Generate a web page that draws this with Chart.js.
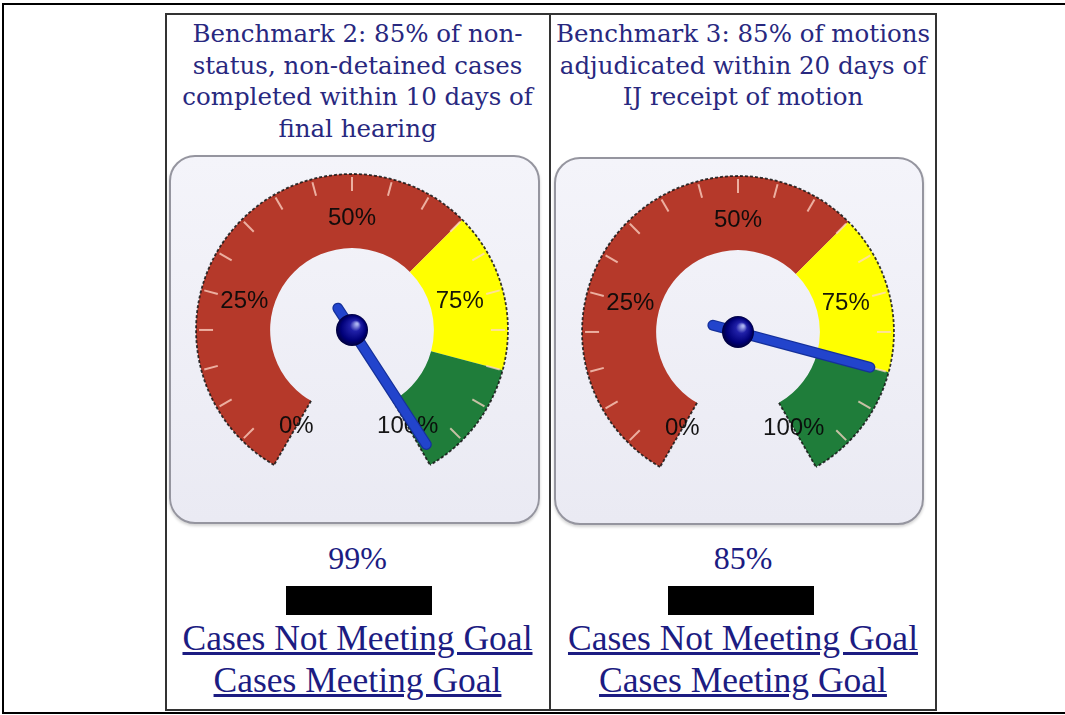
<!DOCTYPE html>
<html><head><meta charset="utf-8">
<script src="https://cdn.jsdelivr.net/npm/chart.js@4/dist/chart.umd.min.js"></script>
<style>
html,body{margin:0;padding:0;background:#fff;width:1065px;height:715px;overflow:hidden;position:relative;}
#frame{position:absolute;left:2px;top:3px;width:1080px;height:707px;border-top:2px solid #000;border-left:2px solid #000;border-bottom:2px solid #000;}
#table{position:absolute;left:165px;top:13px;width:768px;height:694px;border:2px solid #333;}
#divider{position:absolute;left:549px;top:13px;width:2px;height:697px;background:#333;}
.title{position:absolute;text-align:center;font-family:"DejaVu Serif";font-size:24.5px;line-height:31.5px;color:#28287f;white-space:nowrap;}
.box{position:absolute;box-sizing:border-box;border:2px solid #95959f;border-radius:26px;background:linear-gradient(#f4f4fa,#eaeaf3);box-shadow:0 2px 3px rgba(0,0,0,0.18);}
canvas.g{position:absolute;}
.pct{position:absolute;text-align:center;font-family:"Liberation Serif";font-size:32px;line-height:36px;color:#1c1c82;}
.bar{position:absolute;background:#000;}
.link{position:absolute;text-align:center;font-family:"Liberation Serif";font-size:35.5px;line-height:42px;color:#1c1c82;white-space:nowrap;}
.link span{text-decoration:underline;}
</style>
</head>
<body>
<div id="frame"></div>
<div id="table"></div>
<div id="divider"></div>
<div id="root"></div>
<script>
// ---- data ----
const gaugeTitles = [
  ["Benchmark 2: 85% of non-", "status, non-detained cases", "completed within 10 days of", "final hearing"],
  ["Benchmark 3: 85% of motions", "adjudicated within 20 days of", "IJ receipt of motion"]
];
const gaugeValues = [99, 85];
const valueLabels = ["99%", "85%"];
const bandSizes = [65, 20, 15];            // red 0-65, yellow 65-85, green 85-100
const bandColors = ["#b5392a", "#ffff00", "#1f7d3a"];
const tickValues = [5,10,15,20,25,30,35,40,45,50,55,60,65,70,75,80,85,90,95];
const labelValues = [0, 25, 50, 75, 100];
const labelTexts = ["0%", "25%", "50%", "75%", "100%"];
const linkTexts = ["Cases Not Meeting Goal", "Cases Meeting Goal"];

// ---- layout ----
const cells = [{x:165, w:385}, {x:550, w:386}];
const boxes = [{x:169, y:155, w:371, h:369, pad:{left:27, top:19, right:32, bottom:59}},
               {x:554, y:157, w:370, h:368, pad:{left:28, top:19, right:30, bottom:58}}];

const gaugePlugin = {
  id: 'gauge',
  afterDatasetsDraw(chart, args, opts) {
    const ctx = chart.ctx;
    const meta = chart.getDatasetMeta(0);
    const first = meta.data[0], last = meta.data[meta.data.length - 1];
    const cx = first.x, cy = first.y, R = first.outerRadius, r = first.innerRadius;
    const a0 = first.startAngle, a1 = last.endAngle;
    const ang = v => a0 + (v / 100) * (a1 - a0);
    ctx.save();
    // dotted outer outline
    ctx.setLineDash([3, 2]);
    ctx.strokeStyle = 'rgba(20,20,20,0.85)';
    ctx.lineWidth = 1.8;
    ctx.beginPath();
    ctx.arc(cx, cy, R, a0, a1);
    ctx.stroke();
    [a0, a1].forEach(a => {
      ctx.beginPath();
      ctx.moveTo(cx + Math.cos(a) * r, cy + Math.sin(a) * r);
      ctx.lineTo(cx + Math.cos(a) * R, cy + Math.sin(a) * R);
      ctx.stroke();
    });
    ctx.setLineDash([]);
    // ticks
    ctx.strokeStyle = 'rgba(255,215,200,0.75)';
    ctx.lineWidth = 2;
    tickValues.forEach(v => {
      const a = ang(v);
      ctx.beginPath();
      ctx.moveTo(cx + Math.cos(a) * (R - 17), cy + Math.sin(a) * (R - 17));
      ctx.lineTo(cx + Math.cos(a) * (R - 3), cy + Math.sin(a) * (R - 3));
      ctx.stroke();
    });
    // labels
    ctx.fillStyle = 'rgba(10,10,10,0.95)';
    ctx.font = '24px "Liberation Sans", Arial, sans-serif';
    ctx.textAlign = 'center';
    ctx.textBaseline = 'middle';
    labelValues.forEach((v, i) => {
      const a = ang(v), lr = R * 0.715;
      ctx.fillText(labelTexts[i], cx + Math.cos(a) * lr, cy + Math.sin(a) * lr);
    });
    // needle
    const na = ang(opts.value);
    const tip = R * 0.875, tail = 26;
    ctx.lineCap = 'round';
    ctx.strokeStyle = '#15309a';
    ctx.lineWidth = 11;
    ctx.beginPath();
    ctx.moveTo(cx - Math.cos(na) * tail, cy - Math.sin(na) * tail);
    ctx.lineTo(cx + Math.cos(na) * tip, cy + Math.sin(na) * tip);
    ctx.stroke();
    ctx.strokeStyle = '#2244cc';
    ctx.lineWidth = 8.5;
    ctx.beginPath();
    ctx.moveTo(cx - Math.cos(na) * tail, cy - Math.sin(na) * tail);
    ctx.lineTo(cx + Math.cos(na) * tip, cy + Math.sin(na) * tip);
    ctx.stroke();
    // hub
    const hr = 16;
    const g = ctx.createRadialGradient(cx + 5, cy - 6, 1, cx, cy, hr);
    g.addColorStop(0, '#aab2f0');
    g.addColorStop(0.3, '#2020a8');
    g.addColorStop(0.75, '#000078');
    g.addColorStop(1, '#00003c');
    ctx.fillStyle = g;
    ctx.beginPath();
    ctx.arc(cx, cy, hr, 0, Math.PI * 2);
    ctx.fill();
    ctx.restore();
  }
};

const root = document.getElementById('root');
const titleTops = [18, 18];
gaugeValues.forEach((val, i) => {
  const c = cells[i], b = boxes[i];
  const t = document.createElement('div');
  t.className = 'title';
  t.style.left = c.x + 'px'; t.style.width = c.w + 'px'; t.style.top = titleTops[i] + 'px';
  t.innerHTML = gaugeTitles[i].join('<br>');
  root.appendChild(t);

  const box = document.createElement('div');
  box.className = 'box';
  Object.assign(box.style, {left: b.x + 'px', top: b.y + 'px', width: b.w + 'px', height: b.h + 'px'});
  root.appendChild(box);

  const cv = document.createElement('canvas');
  cv.className = 'g';
  cv.width = b.w; cv.height = b.h;
  Object.assign(cv.style, {left: b.x + 'px', top: b.y + 'px', width: b.w + 'px', height: b.h + 'px'});
  root.appendChild(cv);

  new Chart(cv, {
    type: 'doughnut',
    data: {
      labels: ['red', 'yellow', 'green'],
      datasets: [{data: bandSizes, backgroundColor: bandColors, borderWidth: 0}]
    },
    options: {
      responsive: false,
      animation: false,
      rotation: -150,
      circumference: 300,
      cutout: '52.5%',
      layout: {padding: b.pad},
      plugins: {legend: {display: false}, tooltip: {enabled: false}, gauge: {value: val}}
    },
    plugins: [gaugePlugin]
  });

  const p = document.createElement('div');
  p.className = 'pct';
  p.style.left = c.x + 'px'; p.style.width = c.w + 'px'; p.style.top = '540px';
  p.textContent = valueLabels[i];
  root.appendChild(p);

  const bar = document.createElement('div');
  bar.className = 'bar';
  Object.assign(bar.style, {left: (i === 0 ? 286 : 668) + 'px', top: '586px', width: '146px', height: '29px'});
  root.appendChild(bar);

  const l = document.createElement('div');
  l.className = 'link';
  l.style.left = c.x + 'px'; l.style.width = c.w + 'px'; l.style.top = '617px';
  l.innerHTML = linkTexts.map(s => '<span>' + s + '</span>').join('<br>');
  root.appendChild(l);
});
</script>
</body></html>
